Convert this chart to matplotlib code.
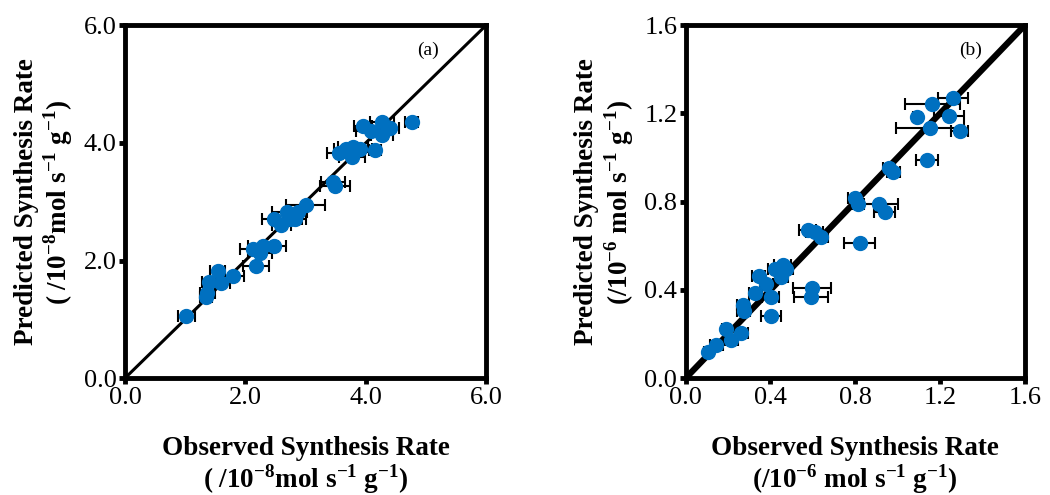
import numpy as np
import matplotlib
matplotlib.use("Agg")
import matplotlib.pyplot as plt

# -- data -------------------------------------------------------------------
# panel (a): units 1e-8 mol s-1 g-1
obs_a = [1.02, 1.35, 1.37, 1.40, 1.54, 1.59, 1.80, 2.18, 2.13, 2.24, 2.29, 2.48,
         2.47, 2.60, 2.69, 2.74, 2.83, 2.88, 3.00, 3.46, 3.49, 3.55, 3.68, 3.77,
         3.79, 3.91, 4.15, 3.95, 4.08, 4.27, 4.27, 4.40, 4.76]
pred_a = [1.05, 1.38, 1.45, 1.64, 1.82, 1.61, 1.74, 1.90, 2.20, 2.12, 2.24, 2.25,
          2.71, 2.60, 2.83, 2.71, 2.71, 2.83, 2.94, 3.34, 3.26, 3.83, 3.90, 3.76,
          3.93, 3.90, 3.88, 4.28, 4.20, 4.36, 4.13, 4.26, 4.36]
err_a = [0.14, 0.10, 0.12, 0.12, 0.12, 0.15, 0.18, 0.22, 0.22, 0.20, 0.25, 0.20,
         0.20, 0.15, 0.25, 0.20, 0.18, 0.15, 0.33, 0.20, 0.25, 0.20, 0.20, 0.22,
         0.25, 0.20, 0.10, 0.15, 0.25, 0.20, 0.18, 0.15, 0.10]

# panel (b): units 1e-6 mol s-1 g-1
obs_b = [0.105, 0.145, 0.19, 0.216, 0.263, 0.270, 0.274, 0.329, 0.345, 0.381,
         0.404, 0.401, 0.42, 0.459, 0.452, 0.475, 0.598, 0.593, 0.577, 0.609,
         0.640, 0.821, 0.798, 0.813, 0.912, 0.939, 0.960, 0.979, 1.139, 1.092,
         1.151, 1.163, 1.243, 1.262, 1.293]
pred_b = [0.119, 0.150, 0.225, 0.175, 0.205, 0.331, 0.305, 0.384, 0.464, 0.429,
          0.281, 0.366, 0.497, 0.512, 0.459, 0.493, 0.407, 0.369, 0.671, 0.663,
          0.638, 0.615, 0.815, 0.789, 0.789, 0.754, 0.955, 0.935, 0.991, 1.185,
          1.136, 1.242, 1.188, 1.268, 1.120]
err_b = [0.02, 0.03, 0.02, 0.03, 0.03, 0.03, 0.03, 0.03, 0.03, 0.03,
         0.047, 0.04, 0.03, 0.04, 0.03, 0.03, 0.09, 0.08, 0.04, 0.04,
         0.03, 0.074, 0.03, 0.03, 0.09, 0.05, 0.03, 0.03, 0.05, 0.02,
         0.16, 0.13, 0.07, 0.07, 0.04]

ticks_a = [0.0, 2.0, 4.0, 6.0]
ticks_b = [0.0, 0.4, 0.8, 1.2, 1.6]
# ----------------------------------------------------------------------------

plt.rcParams["font.family"] = "Liberation Serif"
plt.rcParams["mathtext.fontset"] = "custom"
plt.rcParams["mathtext.rm"] = "Liberation Serif"
plt.rcParams["mathtext.bf"] = "Liberation Serif:bold"

BLUE = "#0070C0"

fig = plt.figure(figsize=(10.5, 4.95), dpi=100)
ax_a = fig.add_axes([0.119, 0.236, 0.344, 0.713])
ax_b = fig.add_axes([0.653, 0.236, 0.323, 0.713])


def style(ax, ticks, lim, tag, unit, lw_diag):
    ax.plot([0, lim], [0, lim], color="black", lw=lw_diag, zorder=1)
    ax.set_xlim(0, lim); ax.set_ylim(0, lim)
    ax.set_xticks(ticks); ax.set_yticks(ticks)
    ax.set_xticklabels([f"{t:.1f}" for t in ticks])
    ax.set_yticklabels([f"{t:.1f}" for t in ticks])
    for s in ax.spines.values():
        s.set_linewidth(3.5)
    ax.tick_params(direction="out", length=4, width=3.5, labelsize=19, pad=2)
    ax.set_xlabel("Observed Synthesis Rate\n" + unit, fontsize=19.5,
                  fontweight="bold", labelpad=20, linespacing=1.02)
    ax.set_ylabel("Predicted Synthesis Rate\n" + unit, fontsize=19.5,
                  fontweight="bold", labelpad=6, linespacing=1.1)
    ax.text(0.84, 0.93, tag, transform=ax.transAxes, fontsize=14,
            ha="center", va="center")


unit_a = r"( /10$^{\mathbf{-8}}$mol s$^{\mathbf{-1}}$ g$^{\mathbf{-1}}$)"
unit_b = r"(/10$^{\mathbf{-6}}$ mol s$^{\mathbf{-1}}$ g$^{\mathbf{-1}}$)"
style(ax_a, ticks_a, 6.0, "(a)", unit_a, 2.2)
style(ax_b, ticks_b, 1.6, "(b)", unit_b, 4.5)

for ax, x, y, e in ((ax_a, obs_a, pred_a, err_a), (ax_b, obs_b, pred_b, err_b)):
    ax.errorbar(x, y, xerr=e, fmt="none", ecolor="black", elinewidth=1.5,
                capsize=4, capthick=1.5, zorder=2)
    ax.plot(x, y, "o", color=BLUE, markersize=10, zorder=3, clip_on=False)

fig.savefig("out.png", dpi=100)
